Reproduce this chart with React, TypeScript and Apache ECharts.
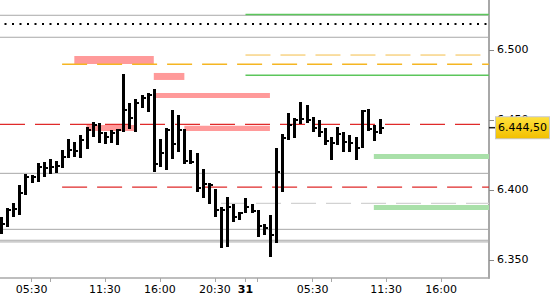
import React, { useEffect, useRef } from "react";
import * as echarts from "echarts";

// ---- bars (30-minute HLC bars), index = bar slot ----
const BAR_HIGH = [
  6381, 6387, 6390.5, 6403.5, 6411.5, 6410.5, 6419.5, 6420, 6422, 6420.5,
  6428.5, 6436.5, 6434.5, 6439.5, 6445, 6448.5, 6448, 6441.5, 6443, 6443.5,
  6483, 6462, 6465, 6468, 6469.5, 6472, 6436.5, 6444.5, 6457, 6453.5,
  6443.5, 6428.5, 6426.5, 6415, 6405, 6400.5, 6388, 6395, 6390, 6384.5,
  6394.5, 6390, 6385.5, 6375.5, 6382, 6430, 6440, 6455, 6451.5, 6463,
  6460.5, 6452, 6450, 6444.5, 6438, 6445, 6441.5, 6439.5, 6438, 6457,
  6458, 6446.5, 6450.5,
];
const BAR_LOW = [
  6368.5, 6373.5, 6380.5, 6382, 6396.5, 6405, 6405.5, 6409.5, 6411.5, 6412,
  6415.5, 6423, 6423.5, 6423, 6429.5, 6438, 6433.5, 6433, 6433.5, 6432,
  6441.5, 6443.5, 6441.5, 6458.5, 6455.5, 6413, 6416.5, 6414.5, 6422, 6427,
  6418.5, 6418.5, 6398.5, 6394.5, 6390, 6380.5, 6358.5, 6359.5, 6377, 6378.5,
  6383.5, 6383.5, 6366.5, 6368, 6352, 6362, 6398.5, 6435.5, 6437, 6447,
  6448, 6441.5, 6438, 6432, 6421.5, 6432, 6427, 6427, 6421.5, 6430,
  6442, 6435, 6440,
];
const BAR_CLOSE = [
  6376, 6385.5, 6386.5, 6398, 6409.5, 6409.5, 6416.5, 6415.5, 6416.5, 6417,
  6423.5, 6428.5, 6428, 6435.5, 6443, 6446.5, 6440.5, 6438, 6440.5, 6443,
  6457, 6451.5, 6462, 6465.5, 6468, 6418.5, 6426.5, 6443, 6433, 6443,
  6420.5, 6420, 6401.5, 6404.5, 6403.5, 6385.5, 6386, 6388, 6380.5, 6383.5,
  6388, 6385, 6374.5, 6373, 6368, 6413, 6437, 6446.5, 6450, 6450.5,
  6450, 6444.5, 6441.5, 6435, 6433.5, 6440, 6434.5, 6433.5, 6430, 6456.5,
  6443.5, 6441.5, 6444.5,
];
const LAST_PRICE = 6444.5;
const LAST_PRICE_TEXT = "6.444,50";

// ---- axes ----
const X_MIN = -0.16;
const X_MAX = 79.84;
const Y_MIN = 6337.14;
const Y_MAX = 6535.71;
const Y_TICKS = [6350, 6400, 6450, 6500];
const X_TICK_POS = [5, 8, 17, 26, 35, 40, 42, 51, 54, 63, 72];
const X_LABEL_POS = [5, 17, 26, 35, 40, 51, 63, 72];
const X_LABELS = ["05:30", "11:30", "16:00", "20:30", "31", "05:30", "11:30", "16:00"];
const BOLD_LABELS = ["31"];

// ---- horizontal levels ----
const GRAY_LEVELS = [6524.8, 6509.1, 6411.9, 6371.9, 6364.1, 6362.9];
const GREEN_LEVELS = [6525.4, 6481.9];
const GREEN_START = 40;
const DOTTED_LEVEL = 6518.6;
const LIGHT_ORANGE_LEVEL = 6496.4;
const LIGHT_ORANGE_START = 40;
const ORANGE_LEVEL = 6489.8;
const ORANGE_START = 10;
const RED_LEVELS = [6446.9, 6402.1];
const RED_STARTS = [X_MIN, 10];
const LIGHT_GRAY_LEVEL = 6390.5;
const LIGHT_GRAY_START = 36;

// ---- zones ----
const PINK_START = [12, 25, 25, 30, 14];
const PINK_END = [25, 30, 44, 44, 22];
const PINK_TOP = [6495.7, 6483.6, 6469.3, 6445.9, 6446.4];
const PINK_BOTTOM = [6490.0, 6478.6, 6465.7, 6442.1, 6442.1];
const GREEN_ZONE_START = [61, 61];
const GREEN_ZONE_TOP = [6425.7, 6389.2];
const GREEN_ZONE_BOTTOM = [6422.1, 6385.7];

const FONT = "DejaVu Sans";

function fmtThousands(v: number): string {
  const n = Math.round(v);
  const th = Math.floor(n / 1000);
  const rest = String(n % 1000).padStart(3, "0");
  return th + "." + rest;
}

function zoneSeries(data: number[][], color: string) {
  return {
    type: "custom",
    silent: true,
    z: 1,
    data,
    encode: { x: [0, 1], y: [2, 3] },
    renderItem: (params: any, api: any) => {
      const p0 = api.coord([api.value(0), api.value(2)]);
      const p1 = api.coord([api.value(1), api.value(3)]);
      return {
        type: "rect",
        shape: { x: p0[0], y: p0[1], width: p1[0] - p0[0], height: p1[1] - p0[1] },
        style: { fill: color },
      };
    },
  };
}

function levelSeries(v: number, start: number, color: string, width: number, type: any, extra: any = {}) {
  return {
    type: "line",
    silent: true,
    z: 2,
    symbol: "none",
    data: [
      [start, v],
      [X_MAX, v],
    ],
    lineStyle: { color, width, type, ...extra },
  };
}

export default function App() {
  const ref = useRef<HTMLDivElement>(null);
  useEffect(() => {
    if (!ref.current) return;
    const chart = echarts.init(ref.current, undefined, { renderer: "svg" });

    const barData = BAR_HIGH.map((h, i) => [i, h, BAR_LOW[i], BAR_CLOSE[i]]);
    const pinkData = PINK_START.map((s, i) => [s, PINK_END[i], PINK_TOP[i], PINK_BOTTOM[i]]);
    const greenData = GREEN_ZONE_START.map((s, i) => [s, X_MAX, GREEN_ZONE_TOP[i], GREEN_ZONE_BOTTOM[i]]);

    const series: any[] = [];
    series.push(zoneSeries(pinkData, "#ff9a9a"));
    series.push(zoneSeries(greenData, "#a9e0a9"));
    GRAY_LEVELS.forEach((v) => series.push(levelSeries(v, X_MIN, "#a8a8a8", 1, "solid")));
    GREEN_LEVELS.forEach((v) => series.push(levelSeries(v, GREEN_START, "#5cc65c", 1.5, "solid")));
    series.push(levelSeries(DOTTED_LEVEL, X_MIN, "#000000", 2, [2, 5.5], { dashOffset: 2.5 }));
    series.push(levelSeries(LIGHT_ORANGE_LEVEL, LIGHT_ORANGE_START, "#f3bd48", 1, [25, 10]));
    series.push(levelSeries(ORANGE_LEVEL, ORANGE_START, "#f5b622", 1.5, [25, 10]));
    RED_LEVELS.forEach((v, i) => series.push(levelSeries(v, RED_STARTS[i], "#e02a2a", 1.2, [25, 10])));
    series.push(levelSeries(LIGHT_GRAY_LEVEL, LIGHT_GRAY_START, "#d2d2d2", 1.2, [25, 10]));

    series.push({
      type: "custom",
      z: 5,
      data: barData,
      encode: { x: 0, y: [1, 2, 3] },
      renderItem: (params: any, api: any) => {
        const x = api.value(0);
        const hi = api.coord([x, api.value(1)]);
        const lo = api.coord([x, api.value(2)]);
        const cl = api.coord([x, api.value(3)]);
        const cx = Math.round(hi[0]);
        return {
          type: "group",
          children: [
            {
              type: "rect",
              shape: { x: cx - 1, y: Math.round(hi[1]), width: 3, height: Math.max(2, Math.round(lo[1]) - Math.round(hi[1])) },
              style: { fill: "#000" },
            },
            {
              type: "rect",
              shape: { x: cx + 2, y: Math.round(cl[1]) - 1, width: 2, height: 2 },
              style: { fill: "#000" },
            },
          ],
        };
      },
      markLine: {
        silent: true,
        symbol: "none",
        animation: false,
        lineStyle: { color: "rgba(0,0,0,0)", width: 0 },
        data: [{ yAxis: LAST_PRICE }],
        label: {
          show: true,
          position: "end",
          distance: 0,
          formatter: "{t| }{p|" + LAST_PRICE_TEXT + "}",
          rich: {
            t: { width: 7, height: 1.5, backgroundColor: "#222", fontSize: 1 },
            p: {
              fontFamily: FONT,
              fontSize: 11,
              color: "#000",
              lineHeight: 13,
              padding: [5, 2, 5, 2],
              borderColor: "#c8c8c8",
              borderWidth: 1,
              backgroundColor: new echarts.graphic.LinearGradient(0, 0, 0, 1, [
                { offset: 0, color: "#ffe13c" },
                { offset: 1, color: "#f2c000" },
              ]),
            },
          },
        },
      },
    });

    const labelMap: Record<string, string> = {};
    X_LABEL_POS.forEach((p, i) => (labelMap[String(p)] = X_LABELS[i]));

    chart.setOption({
      animation: false,
      grid: { left: 0, right: 61, top: 0, bottom: 22, containLabel: false },
      xAxis: {
        type: "value",
        min: X_MIN,
        max: X_MAX,
        splitLine: { show: false },
        axisLine: { show: true, onZero: false, lineStyle: { color: "#a8a8a8", width: 1.5 } },
        axisTick: { show: true, customValues: X_TICK_POS, length: 4, lineStyle: { color: "#a8a8a8" } },
        axisLabel: {
          customValues: X_LABEL_POS,
          margin: 6,
          fontFamily: FONT,
          fontSize: 11,
          color: "#000",
          formatter: (v: number) => {
            const s = labelMap[String(Math.round(v))] || "";
            return BOLD_LABELS.includes(s) ? "{b|" + s + "}" : s;
          },
          rich: { b: { fontFamily: FONT, fontSize: 11, fontWeight: "bold", color: "#000" } },
        },
      },
      yAxis: {
        type: "value",
        position: "right",
        min: Y_MIN,
        max: Y_MAX,
        scale: true,
        splitLine: { show: false },
        axisLine: { show: true, onZero: false, lineStyle: { color: "#a8a8a8", width: 2 } },
        axisTick: { show: true, customValues: Y_TICKS, length: 5, lineStyle: { color: "#888" } },
        axisLabel: {
          customValues: Y_TICKS,
          margin: 8,
          fontFamily: FONT,
          fontSize: 11,
          color: "#000",
          formatter: (v: number) => fmtThousands(v),
        },
      },
      series,
    });
    return () => chart.dispose();
  }, []);
  return <div ref={ref} style={{ position: "absolute", left: 0, top: 0, width: 550, height: 300, background: "#fff" }} />;
}
